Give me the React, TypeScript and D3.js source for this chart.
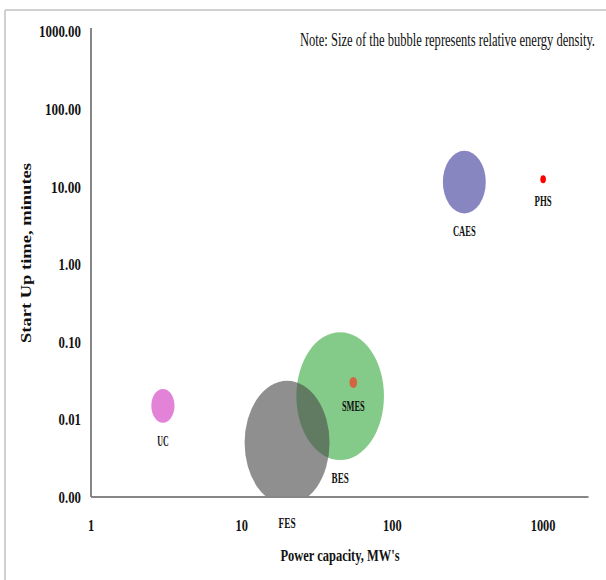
import React from "react";
import * as d3 from "d3";

// Storage technologies: rated power (MW), start-up time (min), relative energy density
const techNames = ["UC", "BES", "FES", "SMES", "CAES", "PHS"];
const powerMW = [3, 45, 20, 55, 300, 1000];
const startupMin = [0.015, 0.02, 0.005, 0.03, 11.5, 12.5];
const energyDensity = [7, 100, 94, 0.75, 24, 0.4];
const fillColors = ["#e283d8", "rgb(80,180,85)", "rgb(75,75,75)", "#d4643f", "#8886c0", "#ff0000"];
const fillOpacity = [1, 0.7, 0.62, 1, 1, 1];

const xTicks = [1, 10, 100, 1000];
const yTicks = [0.001, 0.01, 0.1, 1, 10, 100, 1000];

const W = 606;
const H = 580;
const plot = { left: 91, right: 588.5, top: 28, bottom: 497 };

export default function App() {
  const x = d3.scaleLog().domain([1, 2000]).range([plot.left, plot.right]);
  const y = d3.scaleLog().domain([0.001, 1000]).range([plot.bottom, 31.7]);
  const r = d3.scaleSqrt().domain([0, 100]).range([0, 43.8]);
  const aspect = 1.46;
  const fmt = d3.format(".2f");
  const serif = "'Liberation Serif', 'Times New Roman', serif";
  const noteSquash = 0.68;

  return (
    <svg
      width={W}
      height={H}
      style={{ position: "absolute", left: 0, top: 0, background: "#fff" }}
      fontFamily={serif}
    >
      <defs>
        <clipPath id="plotClip">
          <rect x={plot.left} y={plot.top} width={plot.right - plot.left} height={plot.bottom - plot.top} />
        </clipPath>
      </defs>

      {/* outer frame */}
      <line x1={5} y1={10} x2={W} y2={10} stroke="#d0d0d0" strokeWidth={2} />
      <line x1={5} y1={10} x2={5} y2={H} stroke="#d0d0d0" strokeWidth={2} />

      {/* bubbles */}
      <g clipPath="url(#plotClip)">
        {techNames.map((n, i) => {
          const rx = r(energyDensity[i]);
          return (
            <ellipse
              key={n}
              cx={x(powerMW[i])}
              cy={y(startupMin[i])}
              rx={rx}
              ry={rx * aspect}
              fill={fillColors[i]}
              fillOpacity={fillOpacity[i]}
            />
          );
        })}
      </g>

      {/* axes */}
      <line x1={plot.left} y1={plot.top} x2={plot.left} y2={plot.bottom} stroke="#868686" strokeWidth={2} />
      <line x1={plot.left} y1={plot.bottom} x2={plot.right} y2={plot.bottom} stroke="#868686" strokeWidth={2} />

      {/* y tick labels */}
      {yTicks.map((t) => {
        const s = fmt(t);
        return (
          <text
            key={"y" + t}
            x={81}
            y={y(t)}
            dy="0.35em"
            textAnchor="end"
            fontSize={16.5}
            fontWeight="bold"
            fill="#111"
            textLength={s.length * (s.length > 4 ? 6 : 5.6)}
            lengthAdjust="spacingAndGlyphs"
          >
            {s}
          </text>
        );
      })}

      {/* x tick labels */}
      {xTicks.map((t) => (
        <text
          key={"x" + t}
          x={x(t)}
          y={525}
          dy="0.35em"
          textAnchor="middle"
          fontSize={16.5}
          fontWeight="bold"
          fill="#111"
          textLength={String(t).length * 6.2}
          lengthAdjust="spacingAndGlyphs"
        >
          {t}
        </text>
      ))}

      {/* data labels below bubbles */}
      {techNames.map((n, i) => {
        const rx = r(energyDensity[i]);
        return (
          <text
            key={"l" + n}
            x={x(powerMW[i])}
            y={y(startupMin[i]) + rx * aspect + 18}
            dy="0.35em"
            textAnchor="middle"
            fontSize={14}
            fontWeight="bold"
            fill="#111"
            textLength={n.length * 5.7}
            lengthAdjust="spacingAndGlyphs"
          >
            {n}
          </text>
        );
      })}

      {/* note, horizontally condensed */}
      <g transform={`translate(300,46) scale(${noteSquash},1)`}>
        <text
          x={0}
          y={0}
          fontSize={18}
          fill="#111"
          textLength={295 / noteSquash}
          lengthAdjust="spacingAndGlyphs"
        >
          Note: Size of the bubble represents relative energy density.
        </text>
      </g>

      {/* axis titles */}
      <text
        x={340}
        y={561}
        textAnchor="middle"
        fontSize={17}
        fontWeight="bold"
        fill="#111"
        textLength={119}
        lengthAdjust="spacingAndGlyphs"
      >
        Power capacity, MW's
      </text>
      <text
        transform="translate(31,253) rotate(-90)"
        textAnchor="middle"
        fontSize={15}
        fontWeight="bold"
        fill="#111"
        textLength={180}
        lengthAdjust="spacingAndGlyphs"
      >
        Start Up time, minutes
      </text>
    </svg>
  );
}
